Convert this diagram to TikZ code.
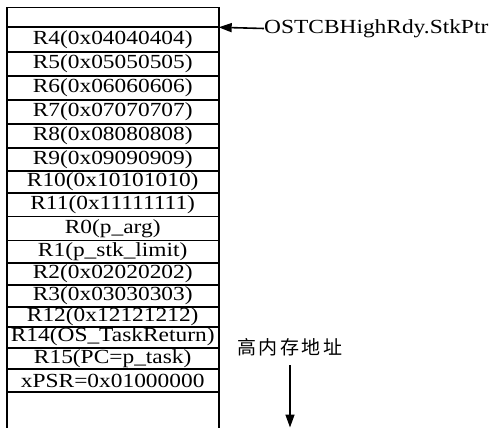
\documentclass[tikz,border=0pt]{standalone}
\usepackage{fontspec}
\setmainfont{Liberation Serif}[FakeStretch=1.17]
\newfontfamily\cjk{Noto Sans CJK SC}
\usetikzlibrary{arrows.meta}
\tikzset{
  cell/.style={draw, line width=1.9pt, minimum width=212pt, inner sep=0pt, outer sep=0pt, font=\fontsize{20pt}{20pt}\selectfont},
  ptrarrow/.style={line width=1.6pt, -{Triangle[length=13pt,width=9pt]}},
  lbl/.style={inner sep=0pt, font=\fontsize{20pt}{20pt}\selectfont}
}
\newcommand{\mkcell}[4]{% name, top, bottom, text
  \pgfmathsetmacro{\cellh}{#3-#2}
  \pgfmathsetmacro{\cellc}{(#3+#2)/2}
  \node[cell, minimum height=\cellh pt] (#1) at (112.7,\cellc) {#4};
}
\begin{document}
\begin{tikzpicture}[x=1pt,y=-1pt]
\useasboundingbox (0,0) rectangle (491,428);
\mkcell{r0top}{7.5}{27.3}{}
\mkcell{r4}{27.3}{51.7}{R4(0x04040404)}
\mkcell{r5}{51.7}{75.8}{R5(0x05050505)}
\mkcell{r6}{75.8}{99.8}{R6(0x06060606)}
\mkcell{r7}{99.8}{124}{R7(0x07070707)}
\mkcell{r8}{124}{147.7}{R8(0x08080808)}
\mkcell{r9}{147.7}{171.3}{R9(0x09090909)}
\mkcell{r10}{171.3}{192.9}{R10(0x10101010)}
\mkcell{r11}{192.9}{216.5}{R11(0x11111111)}
\mkcell{r0}{216.5}{240.5}{R0(p\_arg)}
\mkcell{r1}{240.5}{263.3}{R1(p\_stk\_limit)}
\mkcell{r2}{263.3}{285}{R2(0x02020202)}
\mkcell{r3}{285}{306.7}{R3(0x03030303)}
\mkcell{r12}{306.7}{326.7}{R12(0x12121212)}
\mkcell{r14}{326.7}{347.6}{R14(OS\_TaskReturn)}
\mkcell{r15}{347.6}{369.3}{R15(PC=p\_task)}
\mkcell{xpsr}{369.3}{391.7}{xPSR=0x01000000}
\coordinate (bl) at (xpsr.south west |- 0,429);
\coordinate (br) at (xpsr.south east |- 0,429);
\draw[line width=1.9pt] (xpsr.south west) -- (bl);
\draw[line width=1.9pt] (xpsr.south east) -- (br);
\node[lbl, anchor=west] (ptr) at (264,28.5) {OSTCBHighRdy.StkPtr};
\draw[ptrarrow] (ptr.west) -- (r4.north east);
\node[inner sep=0pt, font=\fontsize{19pt}{20pt}\selectfont\cjk] (addr) at (290,347.5) {高\hspace{2.5pt}内\hspace{2.5pt}存\hspace{2.5pt}地\hspace{2.5pt}址};
\coordinate (dbot) at (290,427.5);
\draw[ptrarrow, shorten <=9pt] (addr.south) -- (dbot);
\end{tikzpicture}
\end{document}
